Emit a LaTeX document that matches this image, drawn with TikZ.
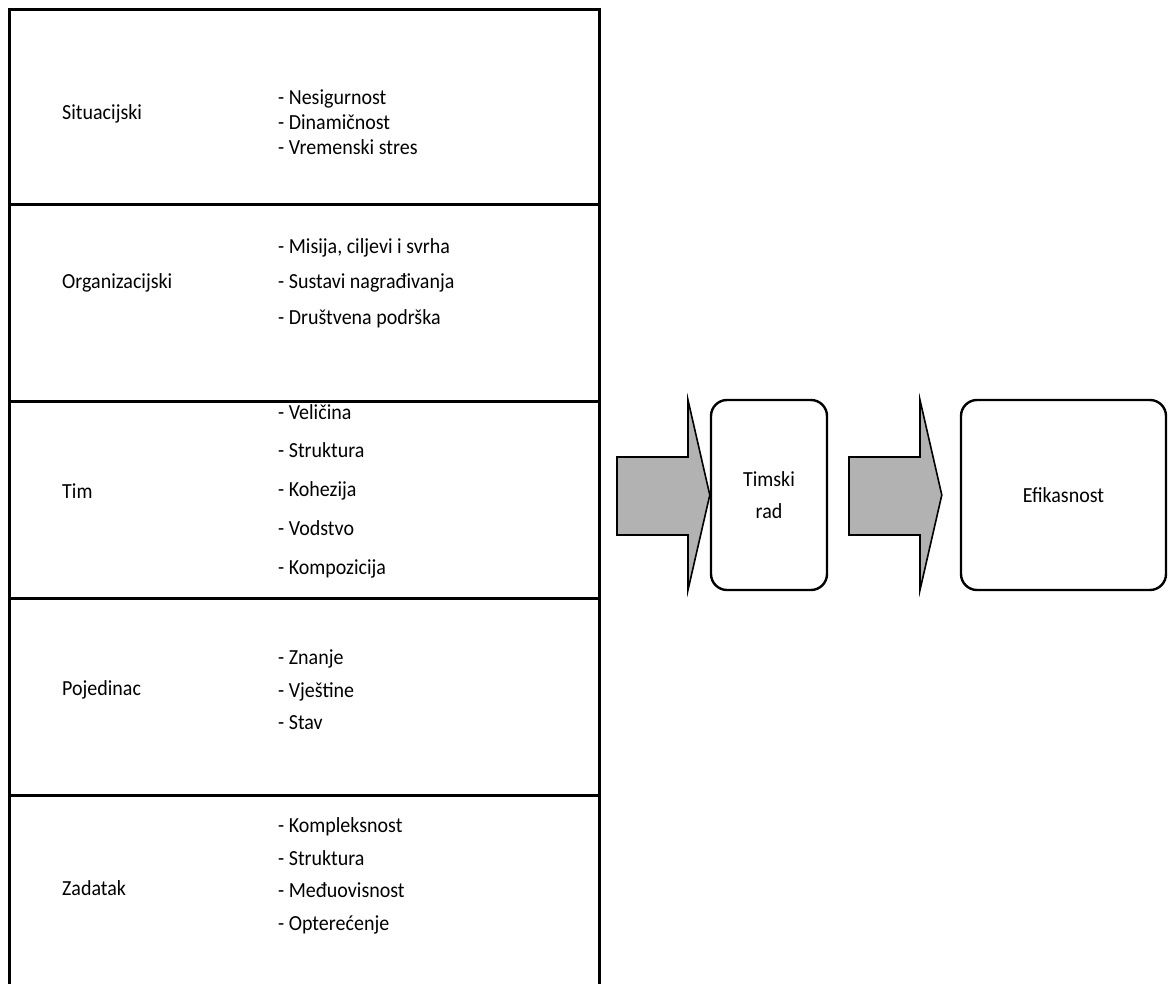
\documentclass[tikz,border=0pt]{standalone}
\usepackage{fontspec}
\setmainfont{Carlito}[FakeStretch=0.93]
\definecolor{arrowgray}{RGB}{178,178,178}
\begin{document}
\begin{tikzpicture}[x=1pt,y=-1pt,
  tableline/.style={line width=3pt,line cap=rect},
  lab/.style={anchor=west,inner sep=0pt,font=\fontsize{21.5}{24}\selectfont},
  items/.style={anchor=west,inner sep=0pt,align=left},
  rbox/.style={draw,line width=2.4pt,rounded corners=16pt,inner sep=0pt,align=center,font=\fontsize{21.5}{32}\selectfont},
  blockarrow/.style={draw,line width=1.6pt,fill=arrowgray,line join=miter}]
\useasboundingbox (0,0) rectangle (1168,984);
% table
\draw[tableline] (9,1000) -- (9,10) -- (599,10) -- (599,1000);
\foreach \yy in {205,402,598,795} \draw[tableline] (9,\yy) -- (599,\yy);
% labels
\node[lab] (l1) at (62,114) {Situacijski};
\node[lab] (l2) at (62,283) {Organizacijski};
\node[lab] (l3) at (62,491) {Tim};
\node[lab] (l4) at (62,690) {Pojedinac};
\node[lab] (l5) at (62,888) {Zadatak};
% item lists
\node[items,font=\fontsize{21.5}{25}\selectfont] (i1) at (278,122) {- Nesigurnost\\- Dinamičnost\\- Vremenski stres};
\node[items,font=\fontsize{21.5}{35.5}\selectfont] (i2) at (278,283) {- Misija, ciljevi i svrha\\- Sustavi nagrađivanja\\- Društvena podrška};
\node[items,font=\fontsize{21.5}{38.75}\selectfont] (i3) at (278,491) {- Veličina\\- Struktura\\- Kohezija\\- Vodstvo\\- Kompozicija};
\node[items,font=\fontsize{21.5}{32.5}\selectfont] (i4) at (278,690) {- Znanje\\- Vještine\\- Stav};
\node[items,font=\fontsize{21.5}{32.7}\selectfont] (i5) at (278,876) {- Kompleksnost\\- Struktura\\- Međuovisnost\\- Opterećenje};
% right boxes
\node[rbox,minimum width=116pt,minimum height=190pt] (tr) at (769,495) {Timski\\rad};
\node[rbox,minimum width=205pt,minimum height=190pt] (ef) at (1063.5,495) {Efikasnost};
\coordinate (tip2) at ([xshift=-18pt]ef.west);
% block arrows
\draw[blockarrow] (617,457) -- (688,457) -- (688,400) -- (tr.west) -- (688,590) -- (688,535) -- (617,535) -- cycle;
\draw[blockarrow] (849,457) -- (920,457) -- (920,400) -- (tip2) -- (920,590) -- (920,535) -- (849,535) -- cycle;
\end{tikzpicture}
\end{document}
